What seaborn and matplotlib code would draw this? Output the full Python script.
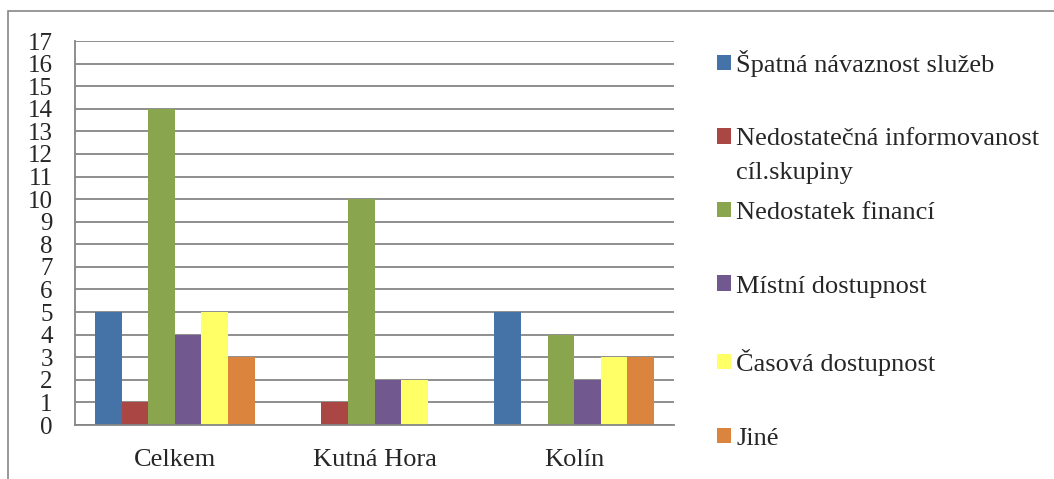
import pandas as pd
import seaborn as sns
import matplotlib.pyplot as plt
from matplotlib.patches import Rectangle

# data
lokality = ['Celkem', 'Kutná Hora', 'Kolín']
problemy = ['Špatná návaznost služeb',
            'Nedostatečná informovanost',
            'Nedostatek financí',
            'Místní dostupnost',
            'Časová dostupnost',
            'Jiné']
pokracovani = 'cíl.skupiny'  # druhý řádek druhé položky legendy
spatna_navaznost = [5, 0, 5]
informovanost = [1, 1, 0]
financi = [14, 10, 4]
mistni = [4, 2, 2]
casova = [5, 2, 3]
jine = [3, 0, 3]
barvy = ['#4572A7', '#AA4643', '#89A54E', '#71588F', '#FFFF66', '#DB843D']

hodnoty = [spatna_navaznost, informovanost, financi, mistni, casova, jine]
rows = []
for p, vals in zip(problemy, hodnoty):
    for lok, v in zip(lokality, vals):
        rows.append({'lokalita': lok, 'problem': p, 'pocet': v})
df = pd.DataFrame(rows)

sns.set_style('white')
plt.rcParams['font.family'] = ['Liberation Serif', 'DejaVu Serif']

fig = plt.figure(figsize=(10.54, 4.79), dpi=100)
ax = fig.add_axes([0.0712, 0.1127, 0.5683, 0.8017])

sns.barplot(data=df, x='lokalita', y='pocet', hue='problem', order=lokality,
            hue_order=problemy, palette=barvy, width=0.8, saturation=1,
            linewidth=0, ax=ax)

ax.set_ylim(0, 17)
ax.set_xlim(-0.5, 2.5)
ax.set_yticks(range(0, 18))
ax.yaxis.grid(True, color='#868686', linewidth=1.3)
ax.set_axisbelow(True)
ax.set_xlabel('')
ax.set_ylabel('')
for s in ['top', 'right']:
    ax.spines[s].set_visible(False)
for s in ['left', 'bottom']:
    ax.spines[s].set_color('#868686')
    ax.spines[s].set_linewidth(1.3)
ax.tick_params(axis='y', length=5, color='#868686', width=1.3, labelsize=18, pad=11)
ax.tick_params(axis='x', which='major', length=0, labelsize=19, pad=17)
ax.set_xticks([-0.5, 0.5, 1.5, 2.5], minor=True)
ax.tick_params(axis='x', which='minor', length=5.5, color='#868686', width=1.3)

leg = ax.legend(loc='upper left', bbox_to_anchor=(1.072, 0.977),
                frameon=False, fontsize=19, handlelength=0.53, handleheight=0.53,
                handletextpad=0.2, labelspacing=1.95, borderaxespad=0, borderpad=0)

# zalomený text druhé položky
fig.canvas.draw()
bb = leg.get_texts()[1].get_window_extent().transformed(fig.transFigure.inverted())
fig.text(bb.x0, bb.y0 - 34 / 479, pokracovani, fontsize=19, ha='left', va='bottom')

fig.patches.append(Rectangle((8 / 1054, -0.01), 1.02, 1.01 - 11 / 479,
                             transform=fig.transFigure, fill=False,
                             edgecolor='#868686', linewidth=1.2))

fig.savefig('out.png', dpi=100)
